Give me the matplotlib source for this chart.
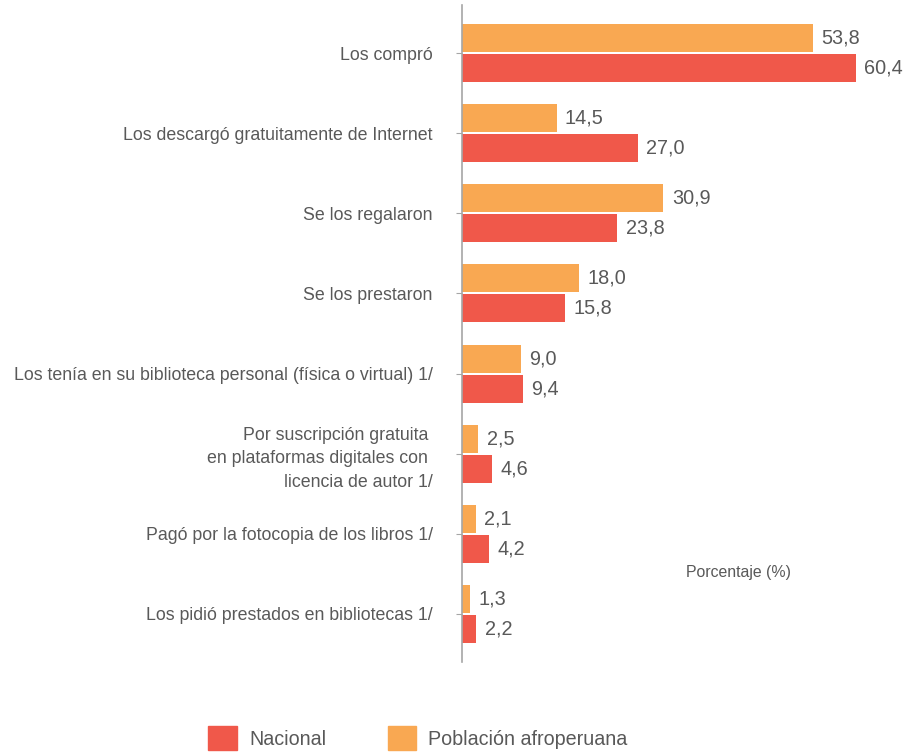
import numpy as np
from matplotlib import pyplot as plt
from matplotlib.patches import Patch

plt.rcParams['font.family'] = ['Liberation Sans', 'DejaVu Sans']

categorias = ['Los compró',
              'Los descargó gratuitamente de Internet',
              'Se los regalaron',
              'Se los prestaron',
              'Los tenía en su biblioteca personal (física o virtual) 1/',
              'Por suscripción gratuita \nen plataformas digitales con \nlicencia de autor 1/',
              'Pagó por la fotocopia de los libros 1/',
              'Los pidió prestados en bibliotecas 1/']
afro = [53.8, 14.5, 30.9, 18.0, 9.0, 2.5, 2.1, 1.3]
nacional = [60.4, 27.0, 23.8, 15.8, 9.4, 4.6, 4.2, 2.2]

rojo = '#F0584A'
naranja = '#F9A852'
gris = '#595959'

fig = plt.figure(figsize=(9.09, 7.54), dpi=100)
ax = fig.add_axes([462/909, 1-662/754, (905-462)/909, 657/754])

y = np.arange(len(categorias))
h = 0.35
ax.barh(y - 0.1875, afro, height=h, color=naranja)
ax.barh(y + 0.1875, nacional, height=h, color=rojo)

for i in range(len(y)):
    ax.annotate(f'{afro[i]:.1f}'.replace('.', ','), (afro[i], y[i] - 0.1875),
                xytext=(6, 0), textcoords='offset points', va='center',
                fontsize=14.3, color=gris)
    ax.annotate(f'{nacional[i]:.1f}'.replace('.', ','), (nacional[i], y[i] + 0.1875),
                xytext=(6, 0), textcoords='offset points', va='center',
                fontsize=14.3, color=gris)

ax.set_xlim(0, (905-462)/6.52)
ax.set_ylim(7.6, -0.6)
ax.set_yticks(y)
ax.set_yticklabels(categorias, fontsize=12.8, color=gris, linespacing=1.5)
ax.tick_params(axis='y', length=4, color='#a6a6a6', pad=17)
ax.set_xticks([])
for s in ['top', 'right', 'bottom']:
    ax.spines[s].set_visible(False)
ax.spines['left'].set_color('#a6a6a6')
ax.spines['left'].set_linewidth(1.2)

fig.text(739/909, 1-573/754, 'Porcentaje (%)', fontsize=11.4, color=gris,
         ha='center', va='center')

handles = [Patch(color=rojo, label='Nacional'), Patch(color=naranja, label='Población afroperuana')]
fig.legend(handles=handles, loc='center', bbox_to_anchor=(418/909, 1-738/754), ncol=2,
           frameon=False, fontsize=14.2, labelcolor=gris, handlelength=1.47, handleheight=1.47,
           columnspacing=3.1, handletextpad=0.6)

plt.savefig('out.png', dpi=100)
